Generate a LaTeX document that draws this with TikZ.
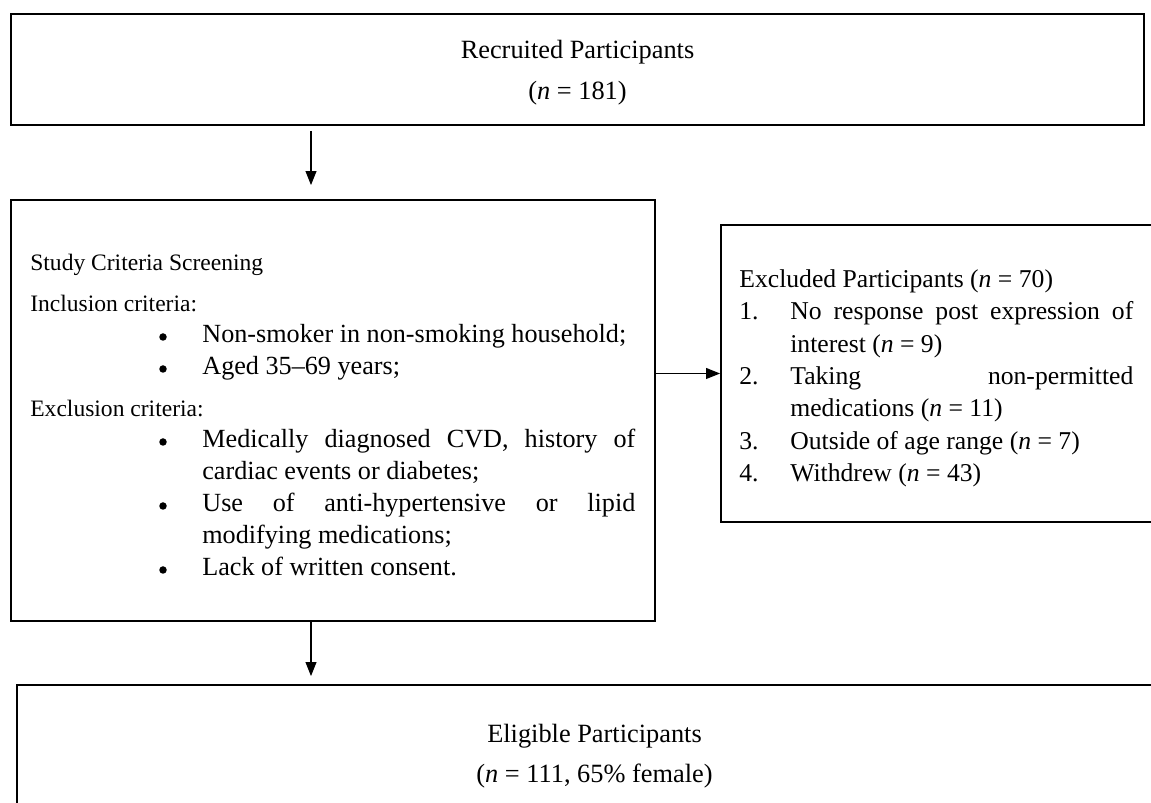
\documentclass[tikz,border=0pt]{standalone}
\usepackage{fontspec}
\setmainfont{Liberation Serif}
\usetikzlibrary{arrows.meta}

\begin{document}
\begin{tikzpicture}[
		box/.style={draw, line width=1.1pt, inner sep=0pt},
		arr/.style={-{Triangle[length=0.28cm,width=0.22cm]}, line width=0.6pt},
		txt/.style={anchor=base west, inner sep=0pt, font=\fontsize{13.4}{16}\selectfont},
		item/.style={anchor=base west, inner sep=0pt, font=\fontsize{14.9}{18}\selectfont},
		exitem/.style={anchor=base west, inner sep=0pt, font=\fontsize{14.6}{18}\selectfont},
		dotc/.style={circle, fill, inner sep=0pt, minimum size=0.15cm},
		ttl/.style={anchor=base, inner sep=0pt, font=\fontsize{15}{18}\selectfont}]
			\clip (0,0) rectangle (23.02,-16.06);
			\node[box, minimum width=22.66cm, minimum height=2.22cm] (recruit) at (11.55,-1.39) {};
			\node[box, minimum width=12.88cm, minimum height=8.42cm] (screen) at (6.66,-8.21) {};
			\node[box, minimum width=9.18cm, minimum height=5.94cm] (excl) at (19.01,-7.47) {};
			\node[box, minimum width=23.26cm, minimum height=2.9cm] (elig) at (11.97,-15.15) {};
			\node[ttl] (rec1) at (11.55,-1.18) {Recruited Participants};
			\node[ttl] (rec2) at (11.55,-2.0) {(\textit{n} = 181)};
			\node[txt] (scr1) at (0.6,-5.42) {Study Criteria Screening};
			\node[txt] (scr2) at (0.6,-6.24) {Inclusion criteria:};
			\node[dotc] (bul1) at (3.26,-6.74) {};
			\node[item] (scr3) at (4.04,-6.86) {Non-smoker in non-smoking household;};
			\node[dotc] (bul2) at (3.26,-7.38) {};
			\node[item] (scr4) at (4.04,-7.50) {Aged 35--69 years;};
			\node[txt] (scr5) at (0.6,-8.34) {Exclusion criteria:};
			\node[dotc] (bul3) at (3.26,-8.84) {};
			\node[item] (scr6) at (4.04,-8.96) {\makebox[8.66cm][s]{Medically diagnosed CVD, history of}};
			\node[item] (scr7) at (4.04,-9.60) {cardiac events or diabetes;};
			\node[dotc] (bul4) at (3.26,-10.12) {};
			\node[item] (scr8) at (4.04,-10.24) {\makebox[8.66cm][s]{Use of anti-hypertensive or lipid}};
			\node[item] (scr9) at (4.04,-10.88) {modifying medications;};
			\node[dotc] (bul5) at (3.26,-11.40) {};
			\node[item] (scr10) at (4.04,-11.52) {Lack of written consent.};
			\node[exitem] (exc1) at (14.78,-5.76) {Excluded Participants (\textit{n} = 70)};
			\node[exitem] (num1) at (14.78,-6.40) {1.};
			\node[exitem] (exc2) at (15.8,-6.40) {\makebox[6.86cm][s]{No response post expression of}};
			\node[exitem] (exc3) at (15.8,-7.06) {interest (\textit{n} = 9)};
			\node[exitem] (num2) at (14.78,-7.70) {2.};
			\node[exitem] (exc4) at (15.8,-7.70) {\makebox[6.86cm][s]{Taking non-permitted}};
			\node[exitem] (exc5) at (15.8,-8.34) {medications (\textit{n} = 11)};
			\node[exitem] (num3) at (14.78,-9.00) {3.};
			\node[exitem] (exc6) at (15.8,-9.00) {Outside of age range (\textit{n} = 7)};
			\node[exitem] (num4) at (14.78,-9.64) {4.};
			\node[exitem] (exc7) at (15.8,-9.64) {Withdrew (\textit{n} = 43)};
			\node[ttl] (elig1) at (11.89,-14.86) {Eligible Participants};
			\node[ttl] (elig2) at (11.89,-15.66) {(\textit{n} = 111, 65\% female)};
			\coordinate (arrx) at (6.22,0);
			\draw[arr, shorten <=0.1cm, shorten >=0.28cm] (arrx |- recruit.south) -- (arrx |- screen.north);
			\draw[arr, shorten >=0.16cm] (arrx |- screen.south) -- (arrx |- elig.north);
			\draw[arr] (screen.east |- excl.west) -- (excl.west);
		\end{tikzpicture}
\end{document}
